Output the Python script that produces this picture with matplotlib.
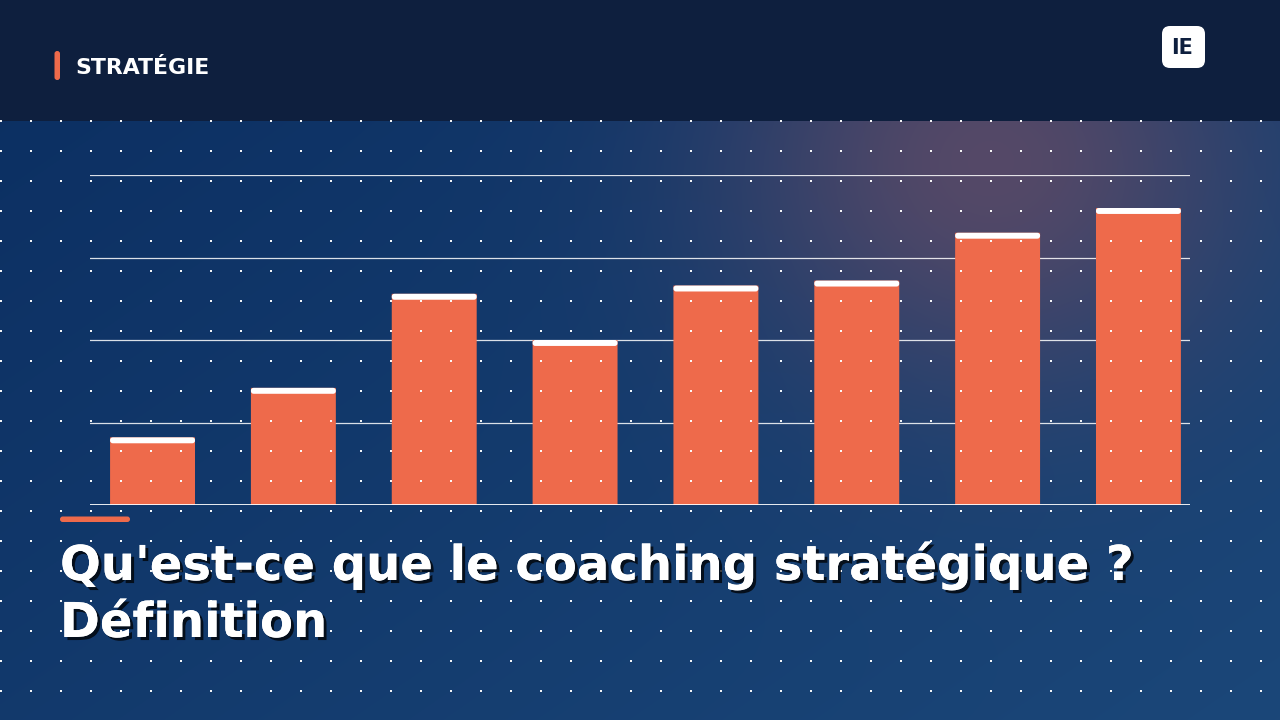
import numpy as np
import matplotlib
matplotlib.use("Agg")
import matplotlib.pyplot as plt
from matplotlib.patches import FancyBboxPatch
import matplotlib.patheffects as pe

# ---- data ----
categories = ["1", "2", "3", "4", "5", "6", "7", "8"]
values = [20.5, 35.5, 64, 50, 66.5, 68, 82.5, 90]
y_ticks = [0, 25, 50, 75, 100]
kicker = "STRATÉGIE"
title_lines = ["Qu'est-ce que le coaching stratégique ?", "Définition"]
logo = "IE"

W, H = 1280, 720
ORANGE = "#ee6a4b"
HEADER = "#0e1f3e"

fig = plt.figure(figsize=(12.8, 7.2), dpi=100)

# ---- background ----
bg = fig.add_axes([0, 0, 1, 1], zorder=0)
bg.set_xlim(0, W); bg.set_ylim(H, 0); bg.axis("off")
yy, xx = np.mgrid[0:H, 0:W].astype(float)
t = np.clip((xx / W) * 0.55 + (yy / H) * 0.45, 0, 1)
c0 = np.array([0x0b, 0x2e, 0x61]) / 255
c1 = np.array([0x1b, 0x47, 0x79]) / 255
img = c0[None, None, :] * (1 - t[..., None]) + c1[None, None, :] * t[..., None]
glow_c = np.array([0x60, 0x4b, 0x66]) / 255
g = np.exp(-(((xx - 990) / 260) ** 2 + ((yy - 160) / 230) ** 2))
img = img * (1 - 0.85 * g[..., None]) + glow_c[None, None, :] * 0.85 * g[..., None]
hdr = np.array(matplotlib.colors.to_rgb(HEADER))
img[:121] = hdr
bg.imshow(img, extent=(0, W, H, 0), aspect="auto", interpolation="bilinear")

# ---- chart ----
ax = fig.add_axes([90 / W, (H - 505) / H, 1100 / W, 330 / H], zorder=1)
ax.patch.set_alpha(0)
x = np.arange(len(categories))
ax.set_xlim(-0.444, 7.366)
ax.set_ylim(0, 100)
for s in ax.spines.values():
    s.set_visible(False)
ax.set_xticks([]); ax.set_yticks([])
for yv in y_ticks[1:]:
    ax.axhline(yv, color="white", lw=0.9, alpha=0.85, zorder=1)
ax.axhline(0, color="white", lw=2.0, zorder=4)

bw = 0.603
cap = 1.8
bars = ax.bar(x, values, width=bw, color=ORANGE, zorder=2)
for b in bars:
    b.set_visible(False)
    p = FancyBboxPatch((b.get_x(), b.get_y()), bw, b.get_height(),
                       boxstyle="round,pad=0,rounding_size=0.025",
                       mutation_aspect=1, fc=ORANGE, ec="none", zorder=2)
    ax.add_patch(p)
caps = ax.bar(x, [cap] * len(values), bottom=[v - cap for v in values], width=bw,
              color="white", zorder=3)
for b in caps:
    b.set_visible(False)
    p = FancyBboxPatch((b.get_x(), b.get_y()), bw, cap,
                       boxstyle="round,pad=0,rounding_size=0.02",
                       mutation_aspect=40, fc="white", ec="none", zorder=3)
    ax.add_patch(p)

# ---- overlay: dots, header, text ----
ov = fig.add_axes([0, 0, 1, 1], zorder=2)
ov.set_xlim(0, W); ov.set_ylim(H, 0); ov.axis("off"); ov.patch.set_alpha(0)
dx, dy = np.meshgrid(np.arange(1, W, 30), np.arange(121, H, 30))
ov.scatter(dx.ravel(), dy.ravel(), s=2.2, marker="s", color="white", lw=0, alpha=0.95)

ov.add_patch(FancyBboxPatch((54.5, 51), 5.5, 29, boxstyle="round,pad=0,rounding_size=2.7",
                            fc=ORANGE, ec="none"))
ov.text(75, 68, kicker, color="white", fontsize=15.8, fontweight="bold",
        va="center", ha="left", family="DejaVu Sans")

ov.add_patch(FancyBboxPatch((1162, 26), 43, 42, boxstyle="round,pad=0,rounding_size=8",
                            fc="white", ec="none"))
ov.text(1182.5, 47.5, logo, color=HEADER, fontsize=15, fontweight="bold",
        va="center", ha="center", family="DejaVu Sans")

ov.add_patch(FancyBboxPatch((60, 516.5), 70, 5.5, boxstyle="round,pad=0,rounding_size=2.7",
                            fc=ORANGE, ec="none"))
shadow = [pe.withSimplePatchShadow(offset=(2.2, -2.2), shadow_rgbFace="black", alpha=0.75),
          pe.Normal()]
for line, yb in zip(title_lines, [580, 637]):
    ov.text(60, yb, line, color="white", fontsize=34.6, fontweight="bold",
            va="baseline", ha="left", family="DejaVu Sans", path_effects=shadow)

fig.savefig("out.png", dpi=100)
